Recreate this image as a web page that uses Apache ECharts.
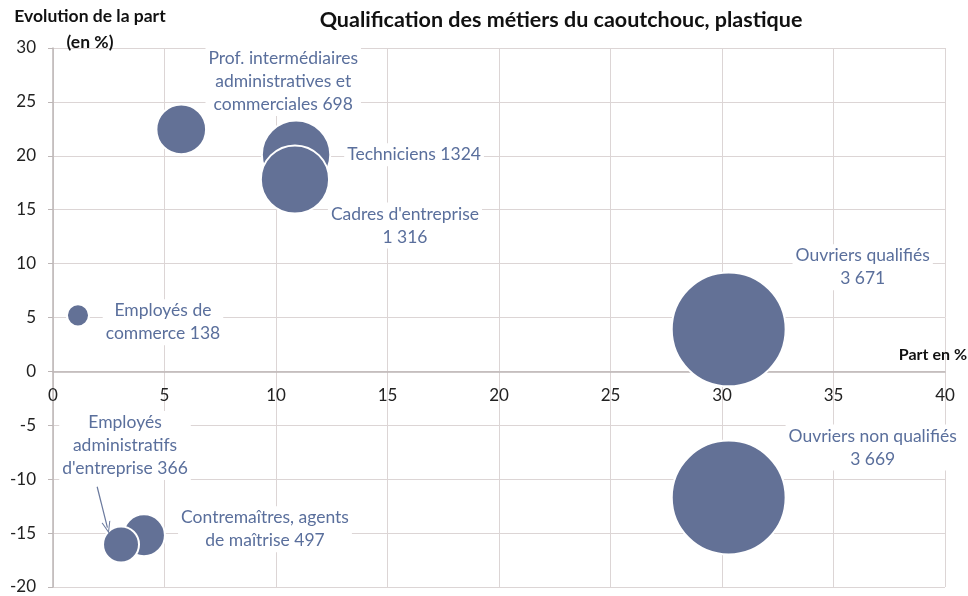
<!DOCTYPE html>
<html>
<head>
<meta charset="utf-8">
<script src="https://cdn.jsdelivr.net/npm/echarts@6/dist/echarts.min.js"></script>
<style>
  html, body { margin: 0; padding: 0; background: #fff; }
  #chart { width: 968px; height: 596px; }
</style>
</head>
<body>
<div id="chart"></div>
<script>
// métiers, part (%), évolution de la part (%), effectifs
var names = ["Prof. intermédiaires\nadministratives et\ncommerciales 698", "Techniciens 1324",
    "Cadres d'entreprise\n1 316", "Ouvriers qualifiés\n3 671", "Ouvriers non qualifiés\n3 669",
    "Employés de\ncommerce 138", "Contremaîtres, agents\nde maîtrise 497",
    "Employés\nadministratifs\nd'entreprise 366"];
var part = [5.75, 10.9, 10.85, 30.3, 30.3, 1.12, 4.08, 3.05];
var evolution = [22.45, 20.1, 17.8, 3.9, -11.7, 5.2, -15.2, -16.05];
var effectif = [698, 1324, 1316, 3671, 3669, 138, 497, 366];
// label offsets (px) around each bubble
var labelOffsets = [[102, -48], [118, 0], [110, 46], [134, -62], [144, -50], [85, 7], [121, -6], [4, -99]];
var xTicks = { min: 0, max: 40, interval: 5 };
var yTicks = { min: -20, max: 30, interval: 5 };
// flèche vers "Employés administratifs"
var arrowFrom = [1.98, -10.7];
var arrowTo = [2.44, -14.5];

var textColor = '#5a6f9c';
var font = 'Lato, "Open Sans", sans-serif';
var gridTop = 48, gridBottom = 9;
var plotHeight = 596 - gridTop - gridBottom;

var data = [];
for (var i = 0; i < names.length; i++) {
    data.push({ name: names[i], value: [part[i], evolution[i], effectif[i]] });
}

var chart = echarts.init(document.getElementById('chart'));
chart.setOption({
    animation: false,
    title: [{
        text: 'Qualification des métiers du caoutchouc, plastique',
        left: 556, top: 4, textAlign: 'center',
        textStyle: { fontFamily: font, fontSize: 21.5, fontWeight: 'bold', color: '#111' }
    }, {
        text: 'Evolution de la part\n(en %)',
        left: 85, top: -2, textAlign: 'center',
        textStyle: { fontFamily: font, fontSize: 17.5, fontWeight: 'bold', color: '#111', lineHeight: 26 }
    }],
    grid: { left: 53, right: 23, top: gridTop, bottom: gridBottom, outerBoundsMode: 'none' },
    xAxis: {
        type: 'value', min: xTicks.min, max: xTicks.max, interval: xTicks.interval,
        axisLine: { onZero: false, lineStyle: { color: '#bdb6b6', width: 1.5 } },
        offset: -plotHeight * (0 - yTicks.min) / (yTicks.max - yTicks.min),
        axisTick: { show: false },
        axisLabel: { color: '#222', fontFamily: font, fontSize: 17, margin: 16 },
        splitLine: { show: true, lineStyle: { color: '#dcd5d5' } },
        name: 'Part en %', nameLocation: 'end', nameGap: 0,
        nameTextStyle: { fontFamily: font, fontSize: 16, fontWeight: 'bold', color: '#111',
            align: 'right', verticalAlign: 'bottom', padding: [0, -22, 9, 0] }
    },
    yAxis: {
        type: 'value', min: yTicks.min, max: yTicks.max, interval: yTicks.interval,
        axisLine: { show: true, lineStyle: { color: '#bdb6b6', width: 1.5 } },
        axisTick: { show: true, length: 5, lineStyle: { color: '#bdb6b6' } },
        axisLabel: { color: '#222', fontFamily: font, fontSize: 17, margin: 17 },
        splitLine: { show: true, lineStyle: { color: '#dcd5d5' } }
    },
    series: [{
        type: 'scatter',
        data: data,
        symbolSize: function (v) { return 2 * Math.sqrt(v[2]) * 0.94; },
        itemStyle: { color: '#637196', borderColor: '#fff', borderWidth: 2, opacity: 1 },
        label: {
            show: true, position: 'inside',
            formatter: function (p) { return p.name; },
            color: textColor, fontFamily: font, fontSize: 17.5, lineHeight: 23,
            align: 'center', backgroundColor: '#fff', padding: [0, 3]
        },
        labelLayout: function (p) {
            return { dx: labelOffsets[p.dataIndex][0], dy: labelOffsets[p.dataIndex][1], hideOverlap: false };
        },
        emphasis: { disabled: true },
        markLine: {
            silent: true,
            symbol: ['none', 'path://M5,0 L10,11 L8.8,11 L5,2.6 L1.2,11 L0,11 Z'],
            symbolSize: [9, 12],
            lineStyle: { color: '#6b7a9e', width: 1.2, type: 'solid' },
            label: { show: false },
            data: [[{ coord: arrowFrom }, { coord: arrowTo }]]
        }
    }]
});
</script>
</body>
</html>
